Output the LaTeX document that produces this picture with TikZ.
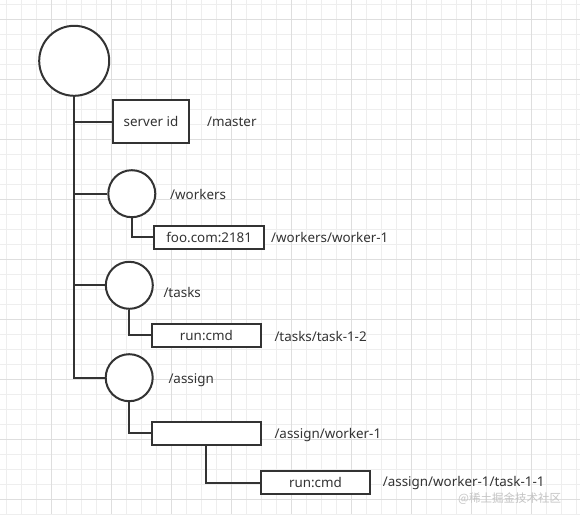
\documentclass[tikz,border=0pt]{standalone}
\usepackage{fontspec}
\setmainfont{Noto Sans}
\newfontfamily\cjkfont{Noto Sans CJK SC}
\definecolor{ink}{HTML}{333333}
\definecolor{gridminor}{HTML}{EEEEEE}
\definecolor{gridmajor}{HTML}{DEDEDE}
\definecolor{wm}{HTML}{C4C4C4}
\begin{document}
\begin{tikzpicture}[x=1pt,y=-1pt,
  every node/.style={font=\fontsize{13.4}{15}\selectfont, text=ink},
  znode/.style={circle, draw=ink, line width=2pt, fill=white, inner sep=0pt},
  zbox/.style={rectangle, draw=ink, line width=2pt, fill=white, inner sep=0pt, minimum width=109.5pt, minimum height=23pt},
  lbl/.style={anchor=west, inner sep=0pt},
  link/.style={draw=ink, line width=2pt}]
\useasboundingbox (0,0) rectangle (580,514);
\fill[white] (0,0) rectangle (580,514);
% grid
\foreach \i in {0,...,38} \draw[gridminor, line width=1pt] (6.7+15*\i,0) -- (6.7+15*\i,514);
\foreach \i in {0,...,34} \draw[gridminor, line width=1pt] (0,4.3+15*\i) -- (580,4.3+15*\i);
\foreach \i in {0,...,9} \draw[gridmajor, line width=1pt] (-8.3+60*\i,0) -- (-8.3+60*\i,514);
\foreach \i in {0,...,8} \draw[gridmajor, line width=1pt] (0,19.3+60*\i) -- (580,19.3+60*\i);
% nodes
\node[znode, minimum size=70pt] (root) at (74.2,60.8) {};
\node[zbox, minimum width=76.6pt, minimum height=42.4pt] (server) at (151,121.5) {server id};
\node[znode, minimum size=47pt] (workers) at (131.8,193.7) {};
\node[zbox] (foo) at (209.2,237.4) {foo.com:2181};
\node[znode, minimum size=47pt] (tasks) at (129.3,285.3) {};
\node[zbox] (rc1) at (206.35,335.2) {run:cmd};
\node[znode, minimum size=47pt] (assign) at (129.2,377.7) {};
\node[zbox] (aw) at (206.35,433.2) {};
\node[zbox] (rc2) at (315.5,482.5) {run:cmd};
% labels
\node[lbl] (lmaster) at (207,122) {/master};
\node[lbl] (lworkers) at (170,194.5) {/workers};
\node[lbl] (lworker1) at (271,237.5) {/workers/worker-1};
\node[lbl] (ltasks) at (163.3,292.5) {/tasks};
\node[lbl] (ltask12) at (274.3,336.5) {/tasks/task-1-2};
\node[lbl] (lassign) at (168.3,380.5) {/assign};
\node[lbl] (lassignw) at (274.3,435) {/assign/worker-1};
\node[lbl] (lassignt) at (382.7,483.5) {/assign/worker-1/task-1-1};
\node[lbl, text=wm, font=\cjkfont\fontsize{11.5}{13}\selectfont] (wmark) at (458,498.5) {@稀土掘金技术社区};
% connectors
\draw[link] (root.south) |- (assign.west);
\draw[link] (server.west -| root.south) -- (server.west);
\draw[link] (workers.west -| root.south) -- (workers.west);
\draw[link] (tasks.west -| root.south) -- (tasks.west);
\draw[link] (workers.south) |- (foo.west);
\draw[link] (tasks.south) |- (rc1.west);
\draw[link] (assign.south) |- (aw.west);
\draw[link] (aw.south) |- (rc2.west);
\end{tikzpicture}
\end{document}
